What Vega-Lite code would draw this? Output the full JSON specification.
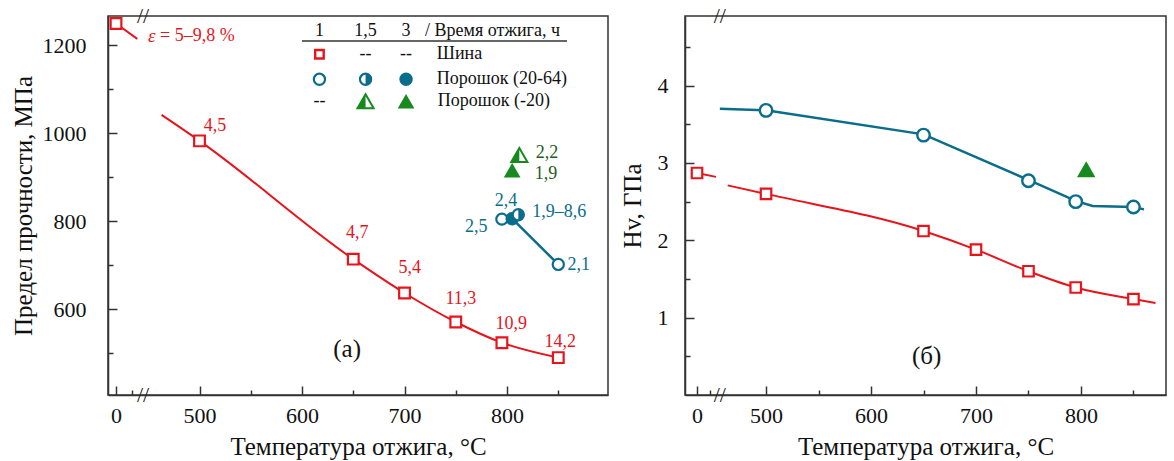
{
  "$schema": "https://vega.github.io/schema/vega-lite/v6.json",
  "padding": {"left": 10, "top": 4, "right": 4, "bottom": 0},
  "spacing": 10,
  "config": {
    "view": {"stroke": "#333", "strokeWidth": 1.5},
    "font": "Liberation Serif",
    "axis": {"domainColor": "#333", "domainWidth": 1.5, "tickColor": "#333", "tickWidth": 1.5, "grid": false,
      "labelFont": "Liberation Serif", "labelFontSize": 22, "labelColor": "#111",
      "titleFont": "Liberation Serif", "titleFontSize": 25, "titleFontWeight": "normal", "titleColor": "#111",
      "labelFlush": false, "labelOverlap": false, "labelBound": false},
    "text": {"font": "Liberation Serif"}
  },
  "datasets": {
    "a_red_line": [
      {"T": 0, "v": 1250, "g": "stub"}, {"T": 133, "v": 1215, "g": "stub"},
      {"T": 463, "v": 1042, "g": "fit"}, {"T": 500, "v": 983, "g": "fit"}, {"T": 650, "v": 714, "g": "fit"},
      {"T": 700, "v": 637, "g": "fit"}, {"T": 750, "v": 571, "g": "fit"}, {"T": 795, "v": 524, "g": "fit"}, {"T": 850, "v": 490, "g": "fit"}
    ],
    "a_teal_line": [{"T": 805, "v": 806}, {"T": 850, "v": 702}],
    "a_shina": [
      {"T": 0, "v": 1250}, {"T": 500, "v": 983}, {"T": 650, "v": 714}, {"T": 700, "v": 637},
      {"T": 750, "v": 571}, {"T": 795, "v": 524}, {"T": 850, "v": 490}
    ],
    "a_leg_sq": [{"T": 617, "v": 1180}],
    "a_open": [{"T": 795, "v": 805}, {"T": 850, "v": 702}, {"T": 617, "v": 1123}],
    "a_half": [{"T": 811, "v": 815}, {"T": 662, "v": 1123}],
    "a_full": [{"T": 805, "v": 806}, {"T": 701.5, "v": 1123}],
    "a_trihalf": [{"T": 812, "v": 951}, {"T": 662, "v": 1073}],
    "a_trifull": [{"T": 805, "v": 916}, {"T": 701.5, "v": 1073}],
    "a_ptlabels": [
      {"T": 515, "v": 1016, "text": "4,5", "grp": "Шина"},
      {"T": 654, "v": 773, "text": "4,7", "grp": "Шина"},
      {"T": 705, "v": 694, "text": "5,4", "grp": "Шина"},
      {"T": 755, "v": 623, "text": "11,3", "grp": "Шина"},
      {"T": 804, "v": 567, "text": "10,9", "grp": "Шина"},
      {"T": 852, "v": 526, "text": "14,2", "grp": "Шина"},
      {"T": 799, "v": 846, "text": "2,4", "grp": "Порошок (20-64)"},
      {"T": 770, "v": 787, "text": "2,5", "grp": "Порошок (20-64)"},
      {"T": 851, "v": 822, "text": "1,9–8,6", "grp": "Порошок (20-64)"},
      {"T": 870, "v": 700, "text": "2,1", "grp": "Порошок (20-64)"},
      {"T": 839, "v": 955, "text": "2,2", "grp": "Порошок (-20)"},
      {"T": 838, "v": 907, "text": "1,9", "grp": "Порошок (-20)"}
    ],
    "a_eps_sym": [{"T": 441, "v": 1221, "text": "ε"}],
    "a_eps": [{"T": 441, "v": 1221, "text": "= 5–9,8 %"}],
    "a_leg_c": [
      {"T": 617, "v": 1232, "text": "1"}, {"T": 662, "v": 1232, "text": "1,5"}, {"T": 701.5, "v": 1232, "text": "3"},
      {"T": 662, "v": 1180, "text": "--"}, {"T": 701.5, "v": 1180, "text": "--"}, {"T": 617, "v": 1073, "text": "--"}
    ],
    "a_leg_l": [
      {"T": 720, "v": 1232, "text": "/ Время отжига, ч"},
      {"T": 731.5, "v": 1180, "text": "Шина"},
      {"T": 731.5, "v": 1123, "text": "Порошок (20-64)"},
      {"T": 732.5, "v": 1073, "text": "Порошок (-20)"}
    ],
    "a_leg_rule": [{"T": 600, "T2": 858.5, "v": 1210}],
    "a_panel": [{"T": 644, "v": 510, "text": "(а)"}],
    "a_brk": [{"T": 259, "v": 405, "text": "//"}, {"T": 259, "v": 1267, "text": "//"}],
    "b_red_line": [
      {"T": 0, "v": 2.87, "g": "stub"}, {"T": 317, "v": 2.82, "g": "stub"},
      {"T": 463.5, "v": 2.71, "g": "fit"}, {"T": 500, "v": 2.6, "g": "fit"}, {"T": 650, "v": 2.12, "g": "fit"},
      {"T": 700, "v": 1.88, "g": "fit"}, {"T": 750, "v": 1.6, "g": "fit"}, {"T": 795, "v": 1.39, "g": "fit"},
      {"T": 850, "v": 1.24, "g": "fit"}, {"T": 871, "v": 1.19, "g": "fit"}
    ],
    "b_teal_line": [
      {"T": 456, "v": 3.7}, {"T": 500, "v": 3.68}, {"T": 650, "v": 3.37}, {"T": 750, "v": 2.78},
      {"T": 795, "v": 2.51}, {"T": 811, "v": 2.445}, {"T": 850, "v": 2.43}, {"T": 860, "v": 2.4}
    ],
    "b_shina": [
      {"T": 0, "v": 2.87}, {"T": 500, "v": 2.6}, {"T": 650, "v": 2.12}, {"T": 700, "v": 1.88},
      {"T": 750, "v": 1.6}, {"T": 795, "v": 1.39}, {"T": 850, "v": 1.24}
    ],
    "b_open": [{"T": 500, "v": 3.68}, {"T": 650, "v": 3.36}, {"T": 750, "v": 2.77}, {"T": 795, "v": 2.5}, {"T": 850, "v": 2.43}],
    "b_tri": [{"T": 805, "v": 2.92}],
    "b_panel": [{"T": 653, "v": 0.5, "text": "(б)"}],
    "b_brk": [{"T": 456, "v": 0, "text": "//"}, {"T": 456, "v": 4.9, "text": "//"}]
  },
  "hconcat": [
    {
      "width": 500,
      "height": 379,
      "encoding": {
        "x": {"field": "T", "type": "quantitative",
          "scale": {"domain": [-50, 0, 150, 450, 898.5], "range": [0, 8, 32, 40.25, 500], "nice": false, "zero": false},
          "axis": {"title": "Температура отжига, °C", "values": [0, 100, 500, 550, 600, 650, 700, 750, 800, 850],
            "labelFont": "Liberation Serif", "titleFont": "Liberation Serif",
            "labelExpr": "(datum.value === 100 || datum.value % 100 !== 0) ? '' : ('' + datum.value)",
            "tickSize": {"condition": {"test": "datum.value % 100 === 0 && datum.value !== 100", "value": -9}, "value": -5},
            "labelPadding": 19, "titlePadding": 4}},
        "y": {"field": "v", "type": "quantitative",
          "scale": {"domain": [405, 1267], "nice": false, "zero": false},
          "axis": {"title": "Предел прочности, МПа", "values": [500, 600, 700, 800, 900, 1000, 1100, 1200],
            "labelFont": "Liberation Serif", "titleFont": "Liberation Serif",
            "labelExpr": "datum.value % 200 === 0 ? ('' + datum.value) : ''",
            "tickSize": {"condition": {"test": "datum.value % 200 === 0", "value": -9}, "value": -5},
            "labelPadding": 31, "titlePadding": 6}}
      },
      "layer": [
        {"data": {"name": "a_red_line"}, "mark": {"type": "line", "color": "#e8141c", "strokeWidth": 2, "interpolate": "monotone"},
          "encoding": {"detail": {"field": "g", "type": "nominal"}}},
        {"data": {"name": "a_teal_line"}, "mark": {"type": "line", "color": "#0a6d8b", "strokeWidth": 2.5}, "encoding": {}},
        {"data": {"name": "a_leg_rule"}, "mark": {"type": "rule", "color": "#333", "strokeWidth": 1.5}, "encoding": {"x2": {"field": "T2"}}},
        {"data": {"name": "a_shina"}, "mark": {"type": "point", "shape": "square", "size": 115, "filled": false, "fill": "white", "fillOpacity": 1, "stroke": "#e8141c", "strokeWidth": 2.2, "opacity": 1}, "encoding": {}},
        {"data": {"name": "a_leg_sq"}, "mark": {"type": "point", "shape": "square", "size": 72, "filled": false, "fill": "white", "fillOpacity": 1, "stroke": "#e8141c", "strokeWidth": 2.4, "opacity": 1}, "encoding": {}},
        {"data": {"name": "a_open"}, "mark": {"type": "point", "shape": "circle", "size": 125, "filled": false, "fill": "white", "fillOpacity": 1, "stroke": "#0a6d8b", "strokeWidth": 2.2, "opacity": 1}, "encoding": {}},
        {"data": {"name": "a_full"}, "mark": {"type": "point", "shape": "circle", "size": 125, "filled": true, "color": "#0a6d8b", "stroke": "#0a6d8b", "strokeWidth": 2.2, "opacity": 1}, "encoding": {}},
        {"data": {"name": "a_half"}, "mark": {"type": "point", "shape": "circle", "size": 125, "filled": false, "fill": "white", "fillOpacity": 1, "stroke": "#0a6d8b", "strokeWidth": 2.2, "opacity": 1}, "encoding": {}},
        {"data": {"name": "a_half"}, "mark": {"type": "point", "shape": "M0,-1A1,1 0 0 1 0,1Z", "size": 125, "filled": true, "color": "#0a6d8b", "strokeWidth": 0, "opacity": 1}, "encoding": {}},
        {"data": {"name": "a_trifull"}, "mark": {"type": "point", "shape": "triangle-up", "size": 280, "filled": true, "color": "#168a1f", "opacity": 1}, "encoding": {}},
        {"data": {"name": "a_trihalf"}, "mark": {"type": "point", "shape": "triangle-up", "size": 260, "filled": false, "fill": "white", "fillOpacity": 1, "stroke": "#168a1f", "strokeWidth": 2, "opacity": 1}, "encoding": {}},
        {"data": {"name": "a_trihalf"}, "mark": {"type": "point", "shape": "M0,-0.866L-1,0.866L0,0.866Z", "size": 260, "filled": true, "color": "#168a1f", "strokeWidth": 0, "opacity": 1}, "encoding": {}},
        {"data": {"name": "a_ptlabels"}, "mark": {"type": "text", "font": "Liberation Serif", "fontSize": 18, "align": "center", "baseline": "middle"},
          "encoding": {"text": {"field": "text"},
            "color": {"field": "grp", "type": "nominal", "scale": {"domain": ["Шина", "Порошок (20-64)", "Порошок (-20)"], "range": ["#e8141c", "#0a6d8b", "#1e5c22"]}, "legend": null}}},
        {"data": {"name": "a_eps_sym"}, "mark": {"type": "text", "font": "Liberation Serif", "fontSize": 19, "fontStyle": "italic", "align": "left", "baseline": "middle", "color": "#e8141c"}, "encoding": {"text": {"field": "text"}}},
        {"data": {"name": "a_eps"}, "mark": {"type": "text", "font": "Liberation Serif", "fontSize": 18, "align": "left", "baseline": "middle", "color": "#e8141c", "dx": 12}, "encoding": {"text": {"field": "text"}}},
        {"data": {"name": "a_leg_c"}, "mark": {"type": "text", "font": "Liberation Serif", "fontSize": 18, "align": "center", "baseline": "middle", "color": "#111"}, "encoding": {"text": {"field": "text"}}},
        {"data": {"name": "a_leg_l"}, "mark": {"type": "text", "font": "Liberation Serif", "fontSize": 18, "align": "left", "baseline": "middle", "color": "#111"}, "encoding": {"text": {"field": "text"}}},
        {"data": {"name": "a_panel"}, "mark": {"type": "text", "font": "Liberation Serif", "fontSize": 25, "align": "center", "baseline": "middle", "color": "#111"}, "encoding": {"text": {"field": "text"}}},
        {"data": {"name": "a_brk"}, "mark": {"type": "text", "font": "Liberation Serif", "fontSize": 22, "align": "center", "baseline": "middle", "color": "#222"}, "encoding": {"text": {"field": "text"}}}
      ]
    },
    {
      "width": 481,
      "height": 379,
      "encoding": {
        "x": {"field": "T", "type": "quantitative",
          "scale": {"domain": [-96, 0, 120, 455, 881], "range": [0, 12, 27, 33.8, 481], "nice": false, "zero": false},
          "axis": {"title": "Температура отжига, °C", "values": [0, 100, 500, 550, 600, 650, 700, 750, 800, 850],
            "labelFont": "Liberation Serif", "titleFont": "Liberation Serif",
            "labelExpr": "(datum.value === 100 || datum.value % 100 !== 0) ? '' : ('' + datum.value)",
            "tickSize": {"condition": {"test": "datum.value % 100 === 0 && datum.value !== 100", "value": -9}, "value": -5},
            "labelPadding": 19, "titlePadding": 4}},
        "y": {"field": "v", "type": "quantitative",
          "scale": {"domain": [0, 4.9], "nice": false, "zero": false},
          "axis": {"title": "Hv, ГПа", "values": [0.5, 1, 1.5, 2, 2.5, 3, 3.5, 4, 4.5],
            "labelFont": "Liberation Serif", "titleFont": "Liberation Serif",
            "labelExpr": "(datum.value === 1 || datum.value === 2 || datum.value === 3 || datum.value === 4) ? ('' + datum.value) : ''",
            "tickSize": {"condition": {"test": "datum.value === 1 || datum.value === 2 || datum.value === 3 || datum.value === 4", "value": -9}, "value": -5},
            "labelPadding": 26, "titlePadding": 12}}
      },
      "layer": [
        {"data": {"name": "b_red_line"}, "mark": {"type": "line", "color": "#e8141c", "strokeWidth": 2, "interpolate": "monotone"},
          "encoding": {"detail": {"field": "g", "type": "nominal"}}},
        {"data": {"name": "b_teal_line"}, "mark": {"type": "line", "color": "#0a6d8b", "strokeWidth": 2.5}, "encoding": {}},
        {"data": {"name": "b_shina"}, "mark": {"type": "point", "shape": "square", "size": 110, "filled": false, "fill": "white", "fillOpacity": 1, "stroke": "#e8141c", "strokeWidth": 2.2, "opacity": 1}, "encoding": {}},
        {"data": {"name": "b_open"}, "mark": {"type": "point", "shape": "circle", "size": 156, "filled": false, "fill": "white", "fillOpacity": 1, "stroke": "#0a6d8b", "strokeWidth": 2.4, "opacity": 1}, "encoding": {}},
        {"data": {"name": "b_tri"}, "mark": {"type": "point", "shape": "triangle-up", "size": 340, "filled": true, "color": "#168a1f", "opacity": 1}, "encoding": {}},
        {"data": {"name": "b_panel"}, "mark": {"type": "text", "font": "Liberation Serif", "fontSize": 25, "align": "center", "baseline": "middle", "color": "#111"}, "encoding": {"text": {"field": "text"}}},
        {"data": {"name": "b_brk"}, "mark": {"type": "text", "font": "Liberation Serif", "fontSize": 22, "align": "center", "baseline": "middle", "color": "#222"}, "encoding": {"text": {"field": "text"}}}
      ]
    }
  ]
}
